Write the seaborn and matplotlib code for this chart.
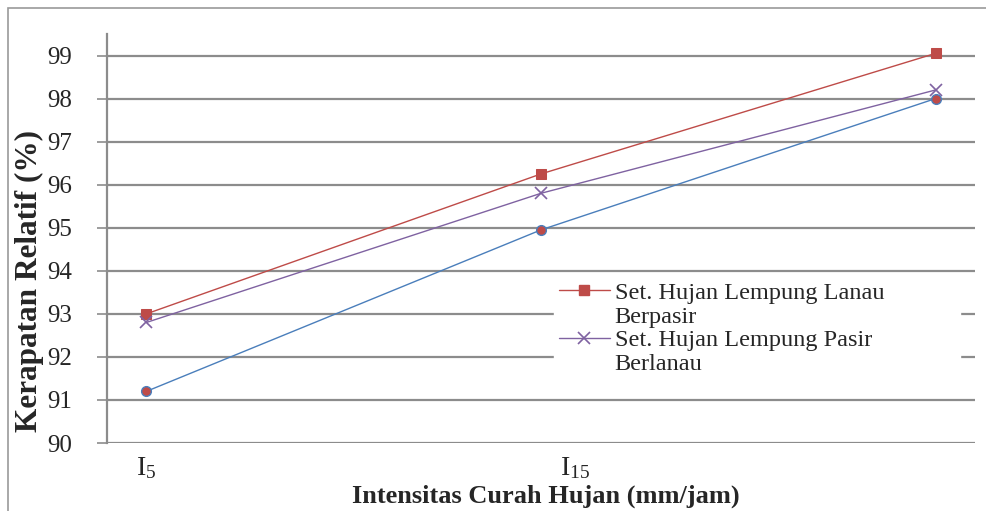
import matplotlib
matplotlib.use("Agg")
import matplotlib.pyplot as plt
from matplotlib.lines import Line2D
from matplotlib.patches import Rectangle
import pandas as pd
import seaborn as sns

# data
categories = ["I5", "I15", "I30"]
tick_labels = [r"I$_{5}$", "          " + r"I$_{15}$", ""]
lanau_berpasir = [93.0, 96.25, 99.05]
pasir_berlanau = [92.8, 95.8, 98.2]
series_three = [91.2, 94.95, 98.0]
y_ticks = [90, 91, 92, 93, 94, 95, 96, 97, 98, 99]

label_lanau = "Set. Hujan Lempung Lanau"
label_lanau_2 = "Berpasir"
label_pasir = "Set. Hujan Lempung Pasir"
label_pasir_2 = "Berlanau"

sns.set_style("white")
plt.rcParams["font.family"] = ["Liberation Serif", "DejaVu Serif"]
plt.rcParams["mathtext.fontset"] = "custom"
plt.rcParams["mathtext.rm"] = "Liberation Serif"
plt.rcParams["mathtext.it"] = "Liberation Serif"
plt.rcParams["mathtext.default"] = "regular"

df = pd.DataFrame({
    "cat": categories * 3,
    "val": lanau_berpasir + pasir_berlanau + series_three,
    "seri": ["a"] * 3 + ["b"] * 3 + ["c"] * 3,
})

RED = "#BE4B48"
PURPLE = "#7F62A1"
BLUE = "#4A7EBB"

fig = plt.figure(figsize=(9.86, 5.11), dpi=100)
ax = fig.add_axes([107 / 986, 1 - 443 / 511, 868 / 986, 409 / 511])

# outer chart border (only left/top visible in the crop)
fig.patches.append(Rectangle((8 / 986, -0.1), 1.2, 0.1 + 1 - 8 / 511,
                             transform=fig.transFigure, fill=False,
                             edgecolor="#9a9a9a", lw=1.2, zorder=0))

for ax_y in y_ticks:
    ax.axhline(ax_y, color="#8c8c8c", lw=1.6, zorder=1)

sns.lineplot(data=df[df.seri == "a"], x="cat", y="val", ax=ax, color=RED,
             lw=1.0, marker="s", markersize=7, markeredgecolor=RED,
             markerfacecolor=RED, zorder=3, legend=False)
sns.lineplot(data=df[df.seri == "b"], x="cat", y="val", ax=ax, color=PURPLE,
             lw=1.0, marker="x", markersize=8, markeredgewidth=1.2,
             markeredgecolor=PURPLE, zorder=3, legend=False)
sns.lineplot(data=df[df.seri == "c"], x="cat", y="val", ax=ax, color=BLUE,
             lw=1.0, marker="o", markersize=7, markerfacecolor=RED,
             markeredgecolor=BLUE, markeredgewidth=1.0, zorder=3, legend=False)

ax.set_xlim(-0.1, 2.1)
ax.set_ylim(90, 99.5)
ax.set_yticks(y_ticks)
ax.set_yticklabels([str(t) for t in y_ticks])
ax.set_xticks(range(len(categories)))
ax.set_xticklabels(tick_labels)

for side in ["top", "right", "bottom"]:
    ax.spines[side].set_visible(False)
ax.spines["left"].set_color("#8c8c8c")
ax.spines["left"].set_linewidth(1.6)

ax.tick_params(axis="y", left=True, length=7, width=1.2, color="#8c8c8c",
               pad=18, labelsize=18)
ax.tick_params(axis="x", bottom=False, pad=5, labelsize=20)

ax.set_xlabel("Intensitas Curah Hujan (mm/jam)", fontsize=19, fontweight="bold")
ax.set_ylabel("Kerapatan Relatif (%)", fontsize=22.5, fontweight="bold")
ax.xaxis.set_label_coords((546 - 107) / 868, (443 - 485) / 409)
ax.yaxis.set_label_coords((44 - 107) / 868, (443 - 281) / 409)

blank = Line2D([], [], color="none")
handles = [
    Line2D([], [], color=RED, lw=1.0, marker="s", markersize=7),
    blank,
    Line2D([], [], color=PURPLE, lw=1.0, marker="x", markersize=8, markeredgewidth=1.2),
    blank,
]
labels = [label_lanau, label_lanau_2, label_pasir, label_pasir_2]
leg = ax.legend(handles, labels, loc="upper left", mode="expand",
                bbox_to_anchor=((554 - 107) / 868, (443 - 380) / 409,
                                (960 - 554) / 868, (380 - 277) / 409),
                borderaxespad=0, frameon=True, fontsize=17.5, handlelength=2.1,
                handletextpad=0.2, labelspacing=0.07, borderpad=0.2, fancybox=False)
leg.get_frame().set_facecolor("white")
leg.get_frame().set_edgecolor("white")
leg.get_frame().set_alpha(1)
leg.set_zorder(5)

fig.savefig("out.png", dpi=100)
